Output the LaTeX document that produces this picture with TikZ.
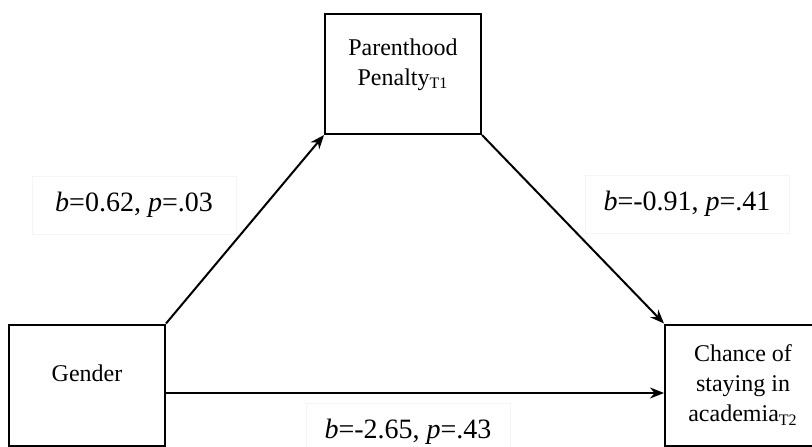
\documentclass[tikz,border=0pt]{standalone}
\usepackage{fontspec}
\setmainfont{Liberation Serif}
\usetikzlibrary{arrows.meta}

\tikzset{
  varbox/.style={draw,line width=1pt,minimum width=78pt,align=center,
    font=\fontsize{12}{15}\selectfont},
  coefbox/.style={draw=black!4,fill=white,minimum width=102pt,minimum height=29pt,
    font=\fontsize{14}{16}\selectfont},
  link/.style={-{Stealth[length=7pt,width=5.5pt]},line width=1pt},
}

\begin{document}
\begin{tikzpicture}[x=0.5pt,y=0.5pt]
  \useasboundingbox (0,0) rectangle (812,446);
  \node[coefbox] (L-1) at (134,241) {\textit{b}=0.62, \textit{p}=.03};
  \node[coefbox] (L-2) at (687,242) {\textit{b}=-0.91, \textit{p}=.41};
  \node[coefbox] (L-3) at (408,14) {\textit{b}=-2.65, \textit{p}=.43};
  \node[varbox,minimum height=60.5pt] (N-1) at (87,61) {Gender\\[-3pt]};
  \node[varbox,minimum height=60pt] (N-2) at (403,372) {Parenthood\\Penalty\textsubscript{T1}\\[-3pt]};
  \node[varbox,minimum height=60.5pt] (N-3) at (743,61) {Chance of\\staying in\\academia\textsubscript{T2}};
  \draw[link] (N-1.north east) -- (N-2.south west);
  \draw[link] (N-2.south east) -- (N-3.north west);
  \draw[link] ([yshift=-4pt]N-1.east) -- ([yshift=-4pt]N-3.west);
\end{tikzpicture}
\end{document}
